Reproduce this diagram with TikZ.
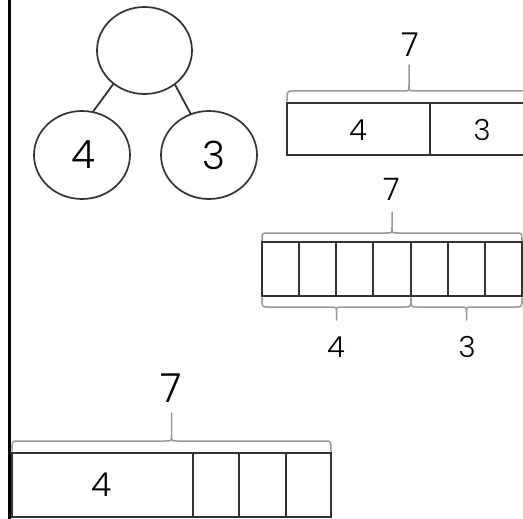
\documentclass[tikz,border=0pt]{standalone}
\usepackage{fontspec}
\setmainfont{Poppins}[UprightFont=* Light]
\usetikzlibrary{shapes.geometric}
\definecolor{ink}{HTML}{333333}
\definecolor{bracegrey}{HTML}{999999}
\tikzset{
  circ/.style={ellipse, draw=ink, line width=1.7pt, inner sep=0pt, outer sep=0pt},
  barline/.style={draw=ink, line width=2.1pt},
  link/.style={draw=ink, line width=1.8pt},
  digit/.style={inner sep=0pt, outer sep=0pt, text=black},
  bracestyle/.style={draw=bracegrey, line width=1.5pt, line cap=round, line join=round},
  pics/brc/.style args={#1/#2/#3}{code={
    \draw[bracestyle] (-#1,#2) .. controls (-#1,0) .. (-#1+6,0) -- (-6,0)
      .. controls (0,0) .. (0,-6) -- (0,-#3)
      (0,-6) .. controls (0,0) .. (6,0) -- (#1-6,0) .. controls (#1,0) .. (#1,#2);
  }}
}
\begin{document}
\begin{tikzpicture}[x=1pt,y=-1pt]
\useasboundingbox (0,0) rectangle (523,519);
% left border
\draw[line width=3pt, black] (9,-2) -- (9,521);

% number bond
\node[circ, minimum width=95pt, minimum height=87pt] (top) at (144.5,50.5) {};
\node[circ, minimum width=96pt, minimum height=88pt] (left) at (82,155) {};
\node[circ, minimum width=96pt, minimum height=88pt] (right) at (209,155) {};
\draw[link] (top.227) -- (left.76);
\draw[link] (top.312) -- (right.114);
\node[digit, font=\fontsize{39}{39}\selectfont] (l4) at (83,154.5) {4};
\node[digit, font=\fontsize{39}{39}\selectfont] (r3) at (214,155) {3};

% top bar model
\pic at (409,91) {brc=122/10/26};
\node[digit, font=\fontsize{33}{33}\selectfont] (t7) at (410,45) {7};
\draw[barline] (287,103) rectangle (545,155);
\draw[barline] (430,103) -- (430,155);
\node[digit, font=\fontsize{29}{29}\selectfont] (t4) at (358,130) {4};
\node[digit, font=\fontsize{29}{29}\selectfont] (t3) at (482,130) {3};

% middle bar model
\pic at (392,233) {brc=130/8/21};
\node[digit, font=\fontsize{31}{31}\selectfont] (m7) at (392,189) {7};
\draw[barline] (262,242) rectangle (522,296);
\foreach \xx in {299,336,373,411,448,485} \draw[barline] (\xx,242) -- (\xx,296);
\pic[yscale=-1] at (336.5,307) {brc=74.5/9/13};
\pic[yscale=-1] at (466.5,307) {brc=55.5/9/13};
\node[digit, font=\fontsize{29}{29}\selectfont] (m4) at (336,347) {4};
\node[digit, font=\fontsize{29}{29}\selectfont] (m3) at (467,347) {3};

% bottom bar model
\pic at (171.5,441) {brc=159.5/10/28};
\node[digit, font=\fontsize{40}{40}\selectfont] (b7) at (171,388) {7};
\draw[barline] (12,453) rectangle (331,517);
\foreach \xx in {193,239,286} \draw[barline] (\xx,453) -- (\xx,517);
\node[digit, font=\fontsize{33}{33}\selectfont] (b4) at (101.5,484.5) {4};
\end{tikzpicture}
\end{document}
